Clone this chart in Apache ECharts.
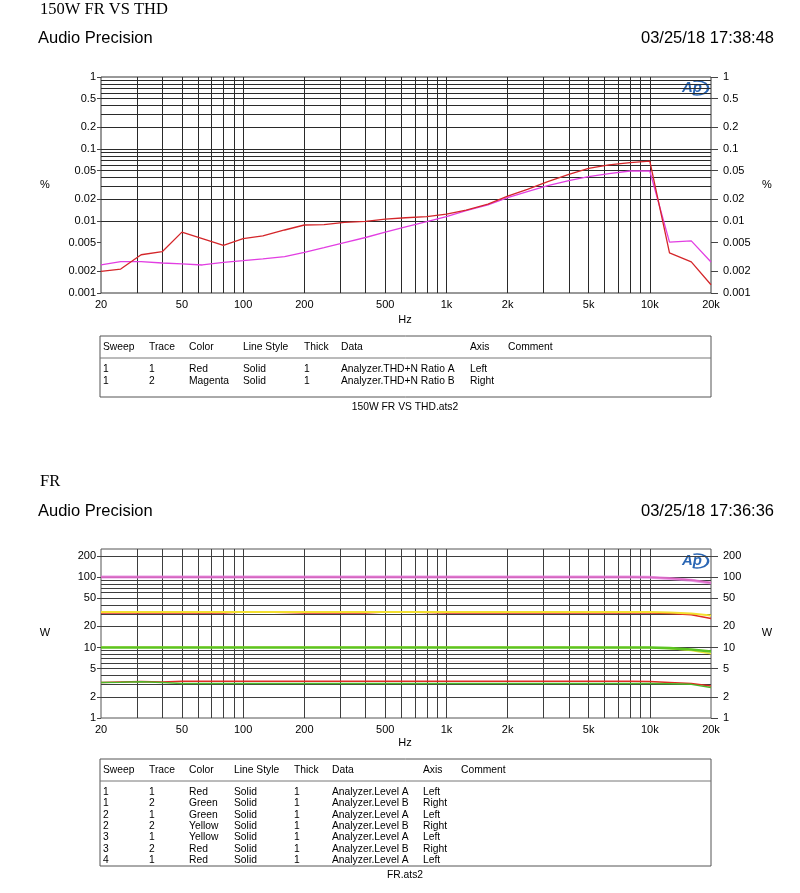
<!DOCTYPE html>
<html><head><meta charset="utf-8">
<script src="https://cdn.jsdelivr.net/npm/echarts@6/dist/echarts.min.js"></script>
<style>html,body{margin:0;padding:0;background:#fff}#c{width:800px;height:893px}</style>
</head><body><div id="c"></div>
<script>
// ---- shared frequency axis (Hz) ----
const freqs = [20,25,31.5,40,50,63,80,100,125,160,200,250,315,400,500,630,800,1000,1250,1600,2000,2500,3150,4000,5000,6300,8000,10000,12500,16000,20000];

// ---- chart 1: THD+N ratio (%) ----
const thdRatioA = [0.0020,0.00215,0.0034,0.00375,0.0070,0.0057,0.0046,0.0057,0.0062,0.0075,0.0088,0.0089,0.0096,0.0099,0.0106,0.0111,0.0115,0.0125,0.0142,0.0171,0.0222,0.0275,0.0352,0.0445,0.054,0.060,0.0645,0.068,0.0036,0.0027,0.0013];
const thdRatioB = [0.00245,0.00272,0.00272,0.00261,0.00253,0.00245,0.00267,0.00281,0.00297,0.0032,0.00367,0.00426,0.0050,0.0059,0.0070,0.0083,0.0098,0.0115,0.0139,0.0167,0.0211,0.0255,0.0309,0.0363,0.0412,0.0454,0.0495,0.0495,0.0051,0.0053,0.0027];

// ---- chart 2: level (W) ----
const frS1T1 = [3.2,3.25,3.3,3.25,3.32,3.32,3.32,3.32,3.32,3.32,3.32,3.32,3.32,3.32,3.32,3.32,3.32,3.32,3.32,3.32,3.32,3.32,3.32,3.32,3.32,3.32,3.31,3.3,3.2,3.08,2.85];
const frS1T2 = [3.18,3.22,3.28,3.2,3.08,3.08,3.08,3.08,3.08,3.08,3.08,3.08,3.08,3.08,3.08,3.08,3.08,3.08,3.08,3.08,3.08,3.08,3.08,3.08,3.08,3.08,3.08,3.08,3.05,3.0,2.71];
const frS2T1 = [10,10,10,10,10,10,10,10,10,10,10,10,10,10,10,10,10,10,10,10,10,10,10,10,10,10,10,10,9.8,9.37,8.78];
const frS2T2 = [10.1,10.05,10.05,10.05,10.05,10.05,10.05,10.05,10.05,10.05,10.05,10.05,10.05,10.05,10.05,10.05,10.05,10.05,10.05,10.05,10.05,10.05,10.05,10.05,10.05,10.0,10.0,10.0,9.7,9.1,8.15];
const frS3T1 = [32,32,32,32,32,32,32,32,32,32,32,32,32,32,32,32,32,32,32,32,32,32,32,32,32,32,32,32,31.5,30.4,28.5];
const frS3T2 = [31,31,31,31,31,31,31,31.8,31.8,31.5,31,31,31,31,31.8,31.8,31.3,31,31,31,31,31,31,31,31,31,31,31,30.5,29.2,25.9];
const frS4T1 = [100,100,100,100,100,100,100,100,100,100,100,100,100,100,100,100,100,100,100,100,100,100,100,100,100,100,100,99.5,96,91,83];
const frS4T2 = [100,100,100,100,100,100,100,100,100,100,100,100,100,100,100,100,100,100,100,100,100,100,100,100,100,100,100,99,95.5,90,82];

// ---- ticks / grid values ----
const xLabelVals = [20,50,100,200,500,1000,2000,5000,10000,20000];
const xLabelTexts = ['20','50','100','200','500','1k','2k','5k','10k','20k'];
const xGridVals = [30,40,50,60,70,80,90,100,200,300,400,500,600,700,800,900,1000,2000,3000,4000,5000,6000,7000,8000,9000,10000];
const thdTickVals = [0.001,0.002,0.005,0.01,0.02,0.05,0.1,0.2,0.5,1];
const thdGridVals = [0.002,0.003,0.004,0.005,0.006,0.007,0.008,0.009,0.01,0.02,0.03,0.04,0.05,0.06,0.07,0.08,0.09,0.1,0.2,0.3,0.4,0.5,0.6,0.7,0.8,0.9];
const wTickVals = [1,2,5,10,20,50,100,200];
const wGridVals = [2,3,4,5,6,7,8,9,10,20,30,40,50,60,70,80,90,100,200];

// ---- table texts ----
const tblHead = ['Sweep','Trace','Color','Line Style','Thick','Data','Axis','Comment'];
const tbl1Rows = [
  ['1','1','Red','Solid','1','Analyzer.THD+N Ratio A','Left',''],
  ['1','2','Magenta','Solid','1','Analyzer.THD+N Ratio B','Right','']
];
const tbl2Rows = [
  ['1','1','Red','Solid','1','Analyzer.Level A','Left',''],
  ['1','2','Green','Solid','1','Analyzer.Level B','Right',''],
  ['2','1','Green','Solid','1','Analyzer.Level A','Left',''],
  ['2','2','Yellow','Solid','1','Analyzer.Level B','Right',''],
  ['3','1','Yellow','Solid','1','Analyzer.Level A','Left',''],
  ['3','2','Red','Solid','1','Analyzer.Level B','Right',''],
  ['4','1','Red','Solid','1','Analyzer.Level A','Left','']
];

const FONT = '"Liberation Sans", Arial, sans-serif';
const SERIF = '"Liberation Serif", "Times New Roman", serif';

const chart = echarts.init(document.getElementById('c'), null, {renderer:'canvas', width:800, height:893});

function xAxisCfg(gi) {
  return {type:'log', logBase:10, gridIndex:gi, min:20, max:20000,
    axisLine:{show:false}, axisTick:{show:false}, splitLine:{show:false}, minorTick:{show:false},
    axisLabel:{customValues:xLabelVals, margin:6, fontSize:11, color:'#000', fontFamily:FONT,
      formatter:function(v){const i = xLabelVals.indexOf(v); return i>=0 ? xLabelTexts[i] : '';}}};
}
function yAxisCfg(gi, pos, min, max, ticks) {
  const right = pos === 'right';
  return {type:'log', logBase:10, gridIndex:gi, position:pos, min:min, max:max,
    axisLine:{show:false}, splitLine:{show:false},
    axisTick:{show:true, customValues:ticks, length:right?7:4, lineStyle:{color:'#444', width:1}},
    axisLabel:{customValues:ticks, margin:right?12:5, fontSize:11, color:'#000', fontFamily:FONT,
      formatter:function(v){return String(v);}}};
}
function mkLine(data, color, width, xi, yi, z, opacity) {
  return {type:'line', xAxisIndex:xi, yAxisIndex:yi, data:freqs.map((f,i)=>[f,data[i]]),
    showSymbol:false, symbol:'none', silent:true, z:z, animation:false,
    lineStyle:{color:color, width:width, opacity:(opacity==null?1:opacity)}, itemStyle:{color:color}};
}
function withGrid(series, yVals, color) {
  series.markLine = {silent:true, symbol:['none','none'], z:1, animation:false,
    label:{show:false}, emphasis:{disabled:true},
    lineStyle:{color:color, width:1, type:'solid'},
    data:[...xGridVals.map(v=>({xAxis:v})), ...yVals.map(v=>({yAxis:v}))]};
  return series;
}

function tableGraphics(x, y, w, h, sepY, headY, rowY0, rowStep, cols, rows, footer, footerY) {
  const g = [];
  const f = '10.3px '+FONT;
  g.push({type:'rect', shape:{x:x, y:y, width:w, height:h}, style:{fill:'none', stroke:'#555', lineWidth:1}});
  g.push({type:'line', shape:{x1:x, y1:sepY, x2:x+w, y2:sepY}, style:{stroke:'#777', lineWidth:1}});
  tblHead.forEach((t,i)=>g.push({type:'text', x:cols[i], y:headY, style:{text:t, font:f, fill:'#000', textVerticalAlign:'middle'}}));
  rows.forEach((r,ri)=>r.forEach((t,i)=>{ if(t) g.push({type:'text', x:cols[i], y:rowY0+ri*rowStep, style:{text:t, font:f, fill:'#000', textVerticalAlign:'middle'}}); }));
  g.push({type:'text', x:405, y:footerY, style:{text:footer, font:f, fill:'#000', textAlign:'center', textVerticalAlign:'middle'}});
  return g;
}
function apLogo(cx, cy) {
  return {type:'group', x:cx, y:cy, children:[
    {type:'text', x:-15, y:0, style:{text:'Ap', font:'italic bold 15px '+FONT, fill:'#2a66b4', textVerticalAlign:'middle'}},
    {type:'arc', shape:{cx:0, cy:0, r:7, startAngle:-1.9, endAngle:1.9, clockwise:true}, scaleX:1.6, style:{stroke:'#2a66b4', lineWidth:1.4, fill:'none'}}
  ]};
}
function headerTexts(title, titleY, apY, date) {
  return [
    {type:'text', x:40, y:titleY, style:{text:title, font:'16.5px '+SERIF, fill:'#000', textVerticalAlign:'middle'}},
    {type:'text', x:38, y:apY, style:{text:'Audio Precision', font:'16.5px '+FONT, fill:'#000', textVerticalAlign:'middle'}},
    {type:'text', x:774, y:apY, style:{text:date, font:'16.5px '+FONT, fill:'#000', textAlign:'right', textVerticalAlign:'middle'}}
  ];
}
function sideText(t, x, y) {
  return {type:'text', x:x, y:y, style:{text:t, font:'11px '+FONT, fill:'#000', textAlign:'center', textVerticalAlign:'middle'}};
}

const cols1 = [103,149,189,243,304,341,470,508];
const cols2 = [103,149,189,234,294,332,423,461];

const graphics = [].concat(
  headerTexts('150W FR VS THD', 9.5, 38, '03/25/18 17:38:48'),
  headerTexts('FR', 482, 511, '03/25/18 17:36:36'),
  [sideText('%',45,185), sideText('%',767,185), sideText('Hz',405,320),
   sideText('W',45,633), sideText('W',767,633), sideText('Hz',405,743),
   apLogo(697,88), apLogo(697,561)],
  tableGraphics(100,336,611,61,358,347,369,12,cols1,tbl1Rows,'150W FR VS THD.ats2',407),
  tableGraphics(100,759,611,107,781,770,792,11.4,cols2,tbl2Rows,'FR.ats2',875)
);

const option = {
  animation:false,
  backgroundColor:'#fff',
  grid:[
    {left:101, top:77, width:610, height:216, show:true, borderColor:'#333', borderWidth:1, backgroundColor:'transparent', containLabel:false},
    {left:101, top:549, width:610, height:169, show:true, borderColor:'#555', borderWidth:1, backgroundColor:'transparent', containLabel:false}
  ],
  xAxis:[xAxisCfg(0), xAxisCfg(1)],
  yAxis:[
    yAxisCfg(0,'left',0.001,1,thdTickVals),
    yAxisCfg(0,'right',0.001,1,thdTickVals),
    yAxisCfg(1,'left',1,250,wTickVals),
    yAxisCfg(1,'right',1,250,wTickVals)
  ],
  series:[
    withGrid(mkLine(thdRatioB,'#e23ee2',1.3,0,1,3), thdGridVals, '#2a2a2a'),
    mkLine(thdRatioA,'#d4262a',1.3,0,0,4),
    withGrid(mkLine(frS4T1,'#d0206a',1.6,1,2,3), wGridVals, '#3e3e3e'),
    mkLine(frS4T2,'#e07ee0',3,1,3,4,0.75),
    mkLine(frS3T2,'#e02a22',1.5,1,3,3),
    mkLine(frS3T1,'#f3e030',2,1,2,4),
    mkLine(frS2T2,'#f0e440',1.5,1,3,3),
    mkLine(frS2T1,'#5cc421',2.6,1,2,4),
    mkLine(frS1T1,'#e02a22',1.5,1,2,3),
    mkLine(frS1T2,'#4cb82a',1.5,1,3,4)
  ],
  graphic:graphics
};
chart.setOption(option);
</script>
</body></html>
